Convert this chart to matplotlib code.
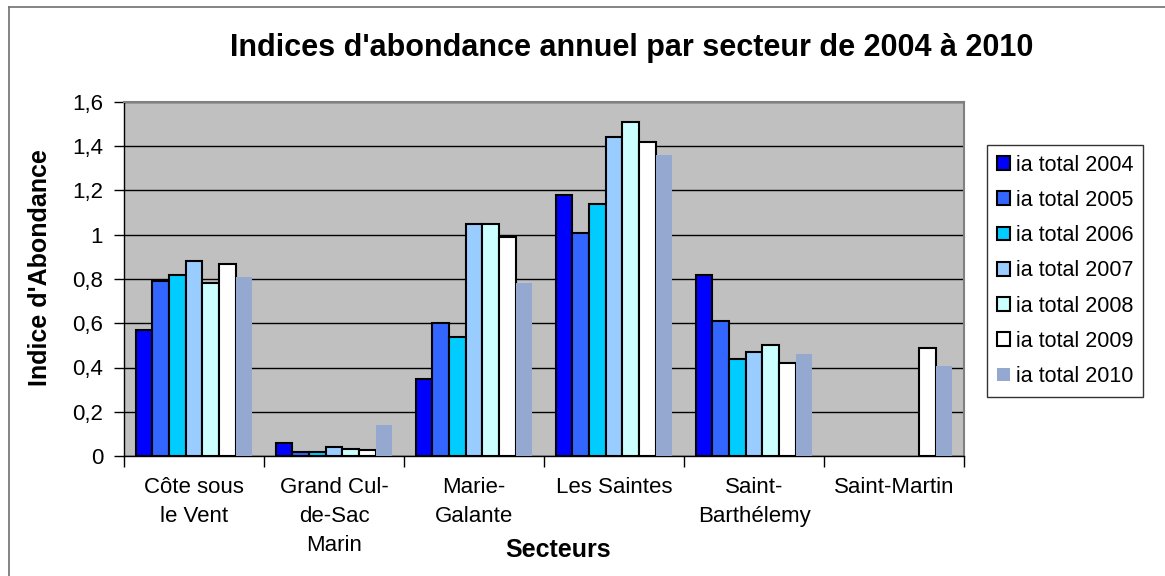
import numpy as np
import matplotlib
matplotlib.use("Agg")
import matplotlib.pyplot as plt
from matplotlib.lines import Line2D

plt.rcParams['font.family'] = ['Liberation Sans', 'DejaVu Sans']

secteurs = ["Côte sous\nle Vent", "Grand Cul-\nde-Sac\nMarin", "Marie-\nGalante",
            "Les Saintes", "Saint-\nBarthélemy", "Saint-Martin"]
annees = ["ia total 2004", "ia total 2005", "ia total 2006", "ia total 2007",
          "ia total 2008", "ia total 2009", "ia total 2010"]

# one list per year, one value per sector (nan = no data)
ia2004 = [0.57, 0.06, 0.35, 1.18, 0.82, np.nan]
ia2005 = [0.79, 0.02, 0.60, 1.01, 0.61, np.nan]
ia2006 = [0.82, 0.02, 0.54, 1.14, 0.44, np.nan]
ia2007 = [0.88, 0.04, 1.05, 1.44, 0.47, np.nan]
ia2008 = [0.78, 0.03, 1.05, 1.51, 0.50, np.nan]
ia2009 = [0.87, 0.025, 0.99, 1.42, 0.42, 0.49]
ia2010 = [0.81, 0.14, 0.78, 1.36, 0.46, 0.405]

series = [ia2004, ia2005, ia2006, ia2007, ia2008, ia2009, ia2010]
colors = ['#0000FF', '#3366FF', '#00CCFF', '#99CCFF', '#CCFFFF', '#FFFFFF', '#94A8D0']

fig = plt.figure(figsize=(11.65, 5.76), dpi=100)
ax = fig.add_axes([124/1165, 1 - 456/576, 840/1165, 354/576])
ax.set_facecolor('#C0C0C0')

x = np.arange(len(secteurs))
w = 0.119
for i, (vals, c) in enumerate(zip(series, colors)):
    pos = x - 3*w + i*w
    if i < 6:
        ax.bar(pos, vals, w, color=c, edgecolor='black', linewidth=1.5,
               label=annees[i], zorder=3)
    else:
        ax.bar(pos, vals, w, color=c, linewidth=0, label=annees[i], zorder=3)

ax.set_xlim(-0.5, len(secteurs) - 0.5)
ax.set_ylim(0, 1.6)
yt = np.arange(0, 1.61, 0.2)
ax.set_yticks(yt)
ax.set_yticklabels([('%g' % round(v, 1)).replace('.', ',') for v in yt], fontsize=16)
ax.yaxis.grid(True, color='black', linewidth=1, zorder=1)
ax.set_axisbelow(True)

ax.set_xticks(np.arange(len(secteurs) + 1) - 0.5)
ax.set_xticklabels([])
ax.set_xticks(x, minor=True)
ax.set_xticklabels(secteurs, minor=True, fontsize=16, linespacing=1.5, va='top')
ax.tick_params(axis='x', which='minor', length=0, pad=15)
ax.tick_params(axis='x', which='major', length=8, width=1)
ax.tick_params(axis='y', length=7, width=1, pad=8)

for s in ['top', 'right']:
    ax.spines[s].set_color('#808080')
    ax.spines[s].set_linewidth(1.5)
for s in ['left', 'bottom']:
    ax.spines[s].set_color('black')
    ax.spines[s].set_linewidth(1)

fig.text(558/1165, 1 - 550/576, "Secteurs", ha='center', va='center',
         fontsize=18, fontweight='bold')
fig.text(40/1165, 1 - 268/576, "Indice d'Abondance", ha='center', va='center',
         rotation=90, fontsize=18, fontweight='bold')
fig.text(0.542, 1 - 48/576, "Indices d'abondance annuel par secteur de 2004 à 2010",
         ha='center', va='center', fontsize=22, fontweight='bold')

leg = ax.legend(loc='upper left', bbox_to_anchor=(987/1165, 1 - 145/576),
                bbox_transform=fig.transFigure, fontsize=15.5, frameon=True,
                fancybox=False, edgecolor='black', handlelength=0.6,
                handleheight=0.6, handletextpad=0.3, labelspacing=0.66,
                borderpad=0.45, borderaxespad=0)
leg.get_frame().set_linewidth(1)

fig.add_artist(Line2D([9/1165, 1], [1 - 7/576, 1 - 7/576], color='#707070', lw=1.2))
fig.add_artist(Line2D([9/1165, 9/1165], [0, 1 - 7/576], color='#707070', lw=1.2))

fig.savefig("out.png", dpi=100)
